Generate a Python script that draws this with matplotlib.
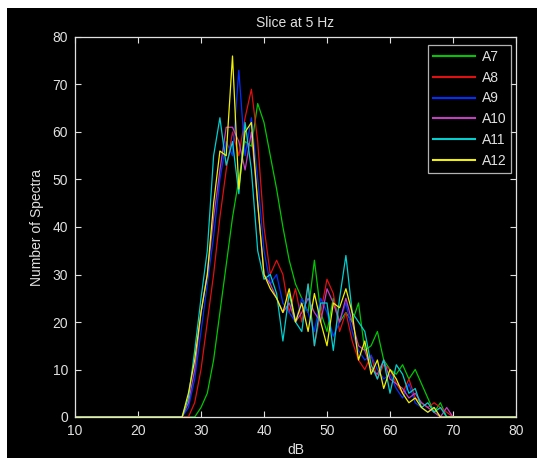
import numpy as np
import matplotlib
matplotlib.use('Agg')
import matplotlib.pyplot as plt
from matplotlib.patches import Rectangle

# ── Data (histogram counts per dB bin) ─────────────────────────────────────────
DB = [10] + list(range(27, 72)) + [80]

A7 = [0, 0, 0, 2, 5, 12, 22, 32, 42, 50, 58, 57, 66, 62, 55, 48, 40, 33, 28, 25,
      22, 33, 22, 18, 25, 20, 22, 20, 24, 14, 15, 18, 12, 10, 9, 11, 8, 10, 7, 4,
      1, 3, 0, 0, 0]
A8 = [0, 0, 3, 10, 20, 30, 42, 52, 60, 55, 63, 69, 58, 40, 30, 33, 30, 22, 27, 20,
      28, 15, 22, 29, 26, 18, 22, 16, 12, 10, 13, 8, 11, 10, 7, 5, 8, 4, 3, 2,
      3, 2, 1, 0, 0]
A9 = [0, 2, 8, 18, 28, 38, 50, 58, 55, 73, 55, 63, 50, 35, 28, 30, 24, 22, 20, 25,
      22, 18, 25, 22, 17, 20, 24, 18, 14, 12, 13, 10, 8, 9, 6, 4, 7, 3, 2, 1,
      2, 0, 0, 0, 0]
A10 = [0, 3, 10, 22, 30, 42, 52, 61, 61, 58, 52, 60, 45, 30, 28, 25, 22, 24, 20, 22,
       25, 22, 20, 27, 24, 20, 25, 20, 15, 14, 10, 9, 12, 8, 7, 6, 4, 5, 3, 2,
       1, 0, 2, 0, 0]
A11 = [0, 4, 14, 25, 35, 55, 63, 53, 58, 47, 62, 52, 35, 29, 30, 26, 16, 26, 20, 18,
       28, 15, 24, 24, 14, 25, 34, 22, 20, 18, 11, 8, 12, 5, 11, 9, 5, 6, 2, 3,
       1, 2, 0, 0, 0]
A12 = [0, 5, 12, 22, 30, 45, 56, 55, 76, 48, 60, 62, 45, 30, 27, 25, 22, 27, 20, 24,
       18, 26, 20, 15, 24, 23, 27, 22, 12, 16, 9, 12, 6, 10, 8, 5, 3, 4, 2, 1,
       2, 0, 0, 0, 0]

SERIES = [A7, A8, A9, A10, A11, A12]
LABELS = ['A7', 'A8', 'A9', 'A10', 'A11', 'A12']
COLORS = ['#00c800', '#e01010', '#0030ff', '#c040c0', '#00d0d0', '#f0f000']

FG = '#e0e0e0'
plt.rcParams['font.family'] = ['Liberation Sans', 'DejaVu Sans']
plt.rcParams['font.size'] = 10

fig = plt.figure(figsize=(5.37, 4.58), dpi=100, facecolor='white')
# black canvas (leaves a thin white strip at left and top)
fig.patches.append(Rectangle((7 / 537, 0), 530 / 537, 450 / 458,
                             transform=fig.transFigure, facecolor='black',
                             edgecolor='none', zorder=-10))

ax = fig.add_axes([75 / 537, 41 / 458, 441 / 537, 380 / 458])
ax.set_facecolor('black')

for vals, lab, col in zip(SERIES, LABELS, COLORS):
    ax.plot(DB, [0] + vals + [0], color=col, lw=0.9, label=lab)

ax.set_xlim(10, 80)
ax.set_ylim(0, 80)
ax.set_xticks(range(10, 81, 10))
ax.set_yticks(range(0, 81, 10))
ax.tick_params(direction='in', length=4, colors=FG, top=True, right=True,
               labelsize=10, width=0.8)
ax.tick_params(axis='x', pad=5)
ax.tick_params(axis='y', pad=5)
for s in ax.spines.values():
    s.set_color(FG)
    s.set_linewidth(0.9)

ax.set_title('Slice at 5 Hz', color=FG, fontsize=10, pad=7)
ax.set_xlabel('dB', color=FG, fontsize=10, labelpad=4)
ax.set_ylabel('Number of Spectra', color=FG, fontsize=10, labelpad=6)

leg = ax.legend(loc='upper right', bbox_to_anchor=(0.989, 0.979),
                borderaxespad=0, frameon=True, fancybox=False,
                handlelength=3.0, handletextpad=0.5, labelspacing=0.49,
                borderpad=0.35, fontsize=10)
leg.get_frame().set_facecolor('black')
leg.get_frame().set_edgecolor(FG)
leg.get_frame().set_linewidth(0.9)
for t in leg.get_texts():
    t.set_color(FG)
for h in leg.get_lines():
    h.set_linewidth(1.5)

fig.savefig('out.png', dpi=100, facecolor='white')
